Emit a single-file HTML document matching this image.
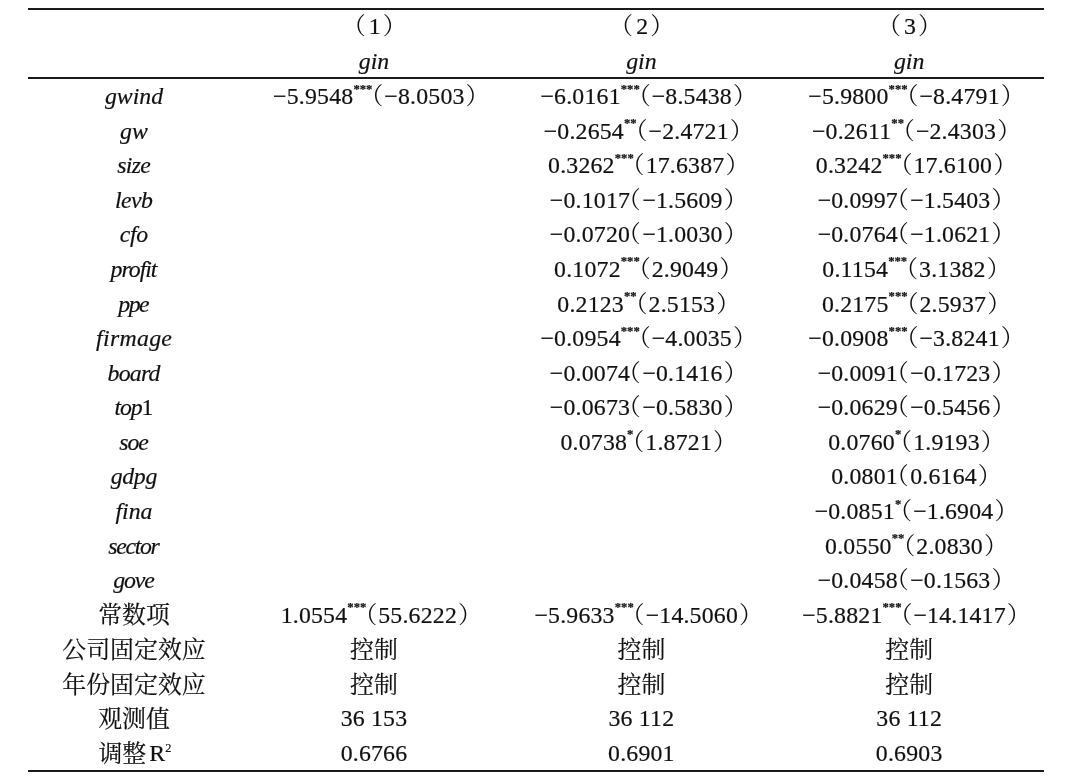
<!DOCTYPE html>
<html lang="zh"><head><meta charset="utf-8"><title>table</title>
<style>
html,body{margin:0;padding:0;background:#fff;}
body{width:1080px;height:777px;position:relative;overflow:hidden;
 font-family:"Liberation Serif","Noto Serif CJK SC",serif;color:#111;font-size:23.8px;-webkit-text-stroke:0.2px #111;}
.ln{position:absolute;left:28px;width:1016px;height:2.4px;background:#1a1a1a;}
.row{position:absolute;left:0;width:1080px;height:34px;line-height:34px;white-space:nowrap;}
.c{position:absolute;top:0;height:34px;text-align:center;}
.c0{left:0;width:268px;}
.c1{left:240px;width:268px;}
.c2{left:507.4px;width:268px;}
.c3{left:775.2px;width:268px;}
i{font-style:italic;}
.n{letter-spacing:0.2px;}
.cn{font-family:"Noto Serif CJK SC",serif;font-size:23.9px;line-height:0;position:relative;top:0.7px;}
sup{font-weight:bold;font-size:12.7px;vertical-align:baseline;position:relative;top:-11.5px;line-height:0;}
sup.r2{top:-9.5px;font-size:12.4px;font-weight:normal;}
.pl,.pr{font-family:"Noto Serif CJK SC",serif;font-size:23.8px;line-height:0;-webkit-text-stroke:0;}
.pl{margin-left:-12.9px;margin-right:1px;}
.pl.ns{margin-left:-13px;margin-right:1.5px;}
.pr{margin-left:1px;margin-right:-14.5px;}
.hp .pl{margin-right:3px;}
.hp .pr{margin-left:2px;}
.hp{position:relative;left:-0.5px;}
</style></head><body>
<div class="ln" style="top:7.5px"></div>
<div class="ln" style="top:76.8px"></div>
<div class="ln" style="top:769.6px"></div>
<div class="row" style="top:8.8px"><div class="c c0"></div><div class="c c1"><span class="hp"><span class="pl">（</span><span class="n">1</span><span class="pr">）</span></span></div><div class="c c2"><span class="hp"><span class="pl">（</span><span class="n">2</span><span class="pr">）</span></span></div><div class="c c3"><span class="hp"><span class="pl">（</span><span class="n">3</span><span class="pr">）</span></span></div></div>
<div class="row" style="top:44.0px"><div class="c c0"></div><div class="c c1"><i>gin</i></div><div class="c c2"><i>gin</i></div><div class="c c3"><i>gin</i></div></div>
<div class="row" style="top:79.0px"><div class="c c0"><i>gwind</i></div><div class="c c1"><span class="n">−5.9548</span><sup>***</sup><span class="pl">（</span><span class="n">−8.0503</span><span class="pr">）</span></div><div class="c c2"><span class="n">−6.0161</span><sup>***</sup><span class="pl">（</span><span class="n">−8.5438</span><span class="pr">）</span></div><div class="c c3"><span class="n">−5.9800</span><sup>***</sup><span class="pl">（</span><span class="n">−8.4791</span><span class="pr">）</span></div></div>
<div class="row" style="top:113.6px"><div class="c c0"><i>gw</i></div><div class="c c1"></div><div class="c c2"><span class="n">−0.2654</span><sup>**</sup><span class="pl">（</span><span class="n">−2.4721</span><span class="pr">）</span></div><div class="c c3"><span class="n">−0.2611</span><sup>**</sup><span class="pl">（</span><span class="n">−2.4303</span><span class="pr">）</span></div></div>
<div class="row" style="top:148.2px"><div class="c c0"><i style="letter-spacing:-0.75px;margin-left:-0.75px">size</i></div><div class="c c1"></div><div class="c c2"><span class="n">0.3262</span><sup>***</sup><span class="pl">（</span><span class="n">17.6387</span><span class="pr">）</span></div><div class="c c3"><span class="n">0.3242</span><sup>***</sup><span class="pl">（</span><span class="n">17.6100</span><span class="pr">）</span></div></div>
<div class="row" style="top:182.7px"><div class="c c0"><i style="letter-spacing:-0.6px;margin-left:-0.6px">levb</i></div><div class="c c1"></div><div class="c c2"><span class="n">−0.1017</span><span class="pl ns">（</span><span class="n">−1.5609</span><span class="pr">）</span></div><div class="c c3"><span class="n">−0.0997</span><span class="pl ns">（</span><span class="n">−1.5403</span><span class="pr">）</span></div></div>
<div class="row" style="top:217.3px"><div class="c c0"><i style="letter-spacing:-0.3px;margin-left:-0.3px">cfo</i></div><div class="c c1"></div><div class="c c2"><span class="n">−0.0720</span><span class="pl ns">（</span><span class="n">−1.0030</span><span class="pr">）</span></div><div class="c c3"><span class="n">−0.0764</span><span class="pl ns">（</span><span class="n">−1.0621</span><span class="pr">）</span></div></div>
<div class="row" style="top:251.9px"><div class="c c0"><i style="letter-spacing:-1.05px;margin-left:-1.05px">profit</i></div><div class="c c1"></div><div class="c c2"><span class="n">0.1072</span><sup>***</sup><span class="pl">（</span><span class="n">2.9049</span><span class="pr">）</span></div><div class="c c3"><span class="n">0.1154</span><sup>***</sup><span class="pl">（</span><span class="n">3.1382</span><span class="pr">）</span></div></div>
<div class="row" style="top:286.5px"><div class="c c0"><i style="letter-spacing:-1.5px;margin-left:-1.5px">ppe</i></div><div class="c c1"></div><div class="c c2"><span class="n">0.2123</span><sup>**</sup><span class="pl">（</span><span class="n">2.5153</span><span class="pr">）</span></div><div class="c c3"><span class="n">0.2175</span><sup>***</sup><span class="pl">（</span><span class="n">2.5937</span><span class="pr">）</span></div></div>
<div class="row" style="top:321.1px"><div class="c c0"><i style="letter-spacing:0.3px;margin-left:0.3px">firmage</i></div><div class="c c1"></div><div class="c c2"><span class="n">−0.0954</span><sup>***</sup><span class="pl">（</span><span class="n">−4.0035</span><span class="pr">）</span></div><div class="c c3"><span class="n">−0.0908</span><sup>***</sup><span class="pl">（</span><span class="n">−3.8241</span><span class="pr">）</span></div></div>
<div class="row" style="top:355.6px"><div class="c c0"><i style="letter-spacing:-0.75px;margin-left:-0.75px">board</i></div><div class="c c1"></div><div class="c c2"><span class="n">−0.0074</span><span class="pl ns">（</span><span class="n">−0.1416</span><span class="pr">）</span></div><div class="c c3"><span class="n">−0.0091</span><span class="pl ns">（</span><span class="n">−0.1723</span><span class="pr">）</span></div></div>
<div class="row" style="top:390.2px"><div class="c c0"><i style="letter-spacing:-1.1px">top</i><span class="n">1</span></div><div class="c c1"></div><div class="c c2"><span class="n">−0.0673</span><span class="pl ns">（</span><span class="n">−0.5830</span><span class="pr">）</span></div><div class="c c3"><span class="n">−0.0629</span><span class="pl ns">（</span><span class="n">−0.5456</span><span class="pr">）</span></div></div>
<div class="row" style="top:424.8px"><div class="c c0"><i style="letter-spacing:-1.1px;margin-left:-1.1px">soe</i></div><div class="c c1"></div><div class="c c2"><span class="n">0.0738</span><sup>*</sup><span class="pl">（</span><span class="n">1.8721</span><span class="pr">）</span></div><div class="c c3"><span class="n">0.0760</span><sup>*</sup><span class="pl">（</span><span class="n">1.9193</span><span class="pr">）</span></div></div>
<div class="row" style="top:459.4px"><div class="c c0"><i style="letter-spacing:-0.3px;margin-left:-0.3px">gdpg</i></div><div class="c c1"></div><div class="c c2"></div><div class="c c3"><span class="n">0.0801</span><span class="pl ns">（</span><span class="n">0.6164</span><span class="pr">）</span></div></div>
<div class="row" style="top:494.0px"><div class="c c0"><i>fina</i></div><div class="c c1"></div><div class="c c2"></div><div class="c c3"><span class="n">−0.0851</span><sup>*</sup><span class="pl">（</span><span class="n">−1.6904</span><span class="pr">）</span></div></div>
<div class="row" style="top:528.5px"><div class="c c0"><i style="letter-spacing:-1.3px;margin-left:-1.3px">sector</i></div><div class="c c1"></div><div class="c c2"></div><div class="c c3"><span class="n">0.0550</span><sup>**</sup><span class="pl">（</span><span class="n">2.0830</span><span class="pr">）</span></div></div>
<div class="row" style="top:563.1px"><div class="c c0"><i style="letter-spacing:-1.1px;margin-left:-1.1px">gove</i></div><div class="c c1"></div><div class="c c2"></div><div class="c c3"><span class="n">−0.0458</span><span class="pl ns">（</span><span class="n">−0.1563</span><span class="pr">）</span></div></div>
<div class="row" style="top:597.7px"><div class="c c0"><span class="cn">常数项</span></div><div class="c c1"><span class="n">1.0554</span><sup>***</sup><span class="pl">（</span><span class="n">55.6222</span><span class="pr">）</span></div><div class="c c2"><span class="n">−5.9633</span><sup>***</sup><span class="pl">（</span><span class="n">−14.5060</span><span class="pr">）</span></div><div class="c c3"><span class="n">−5.8821</span><sup>***</sup><span class="pl">（</span><span class="n">−14.1417</span><span class="pr">）</span></div></div>
<div class="row" style="top:632.3px"><div class="c c0"><span class="cn">公司固定效应</span></div><div class="c c1"><span class="cn">控制</span></div><div class="c c2"><span class="cn">控制</span></div><div class="c c3"><span class="cn">控制</span></div></div>
<div class="row" style="top:666.9px"><div class="c c0"><span class="cn">年份固定效应</span></div><div class="c c1"><span class="cn">控制</span></div><div class="c c2"><span class="cn">控制</span></div><div class="c c3"><span class="cn">控制</span></div></div>
<div class="row" style="top:701.4px"><div class="c c0"><span class="cn">观测值</span></div><div class="c c1"><span class="n">36 153</span></div><div class="c c2"><span class="n">36 112</span></div><div class="c c3"><span class="n">36 112</span></div></div>
<div class="row" style="top:736.0px"><div class="c c0"><span class="cn" style="margin-left:2px">调整</span><span class="n" style="margin-left:3px">R</span><sup class="r2">2</sup></div><div class="c c1"><span class="n">0.6766</span></div><div class="c c2"><span class="n">0.6901</span></div><div class="c c3"><span class="n">0.6903</span></div></div>
</body></html>
